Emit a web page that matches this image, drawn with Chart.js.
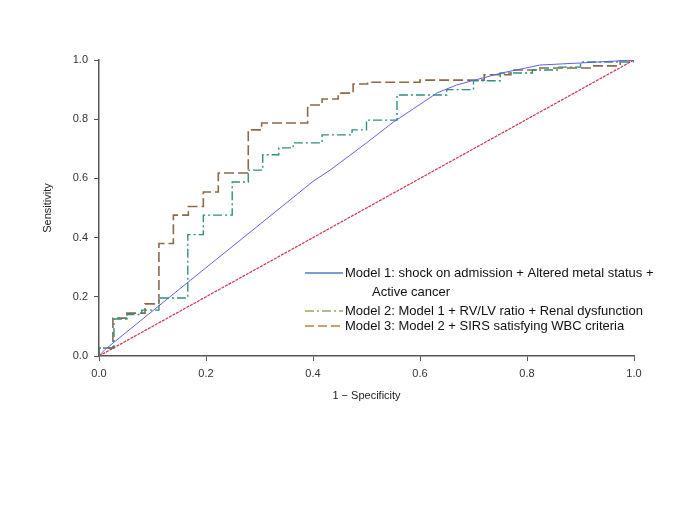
<!DOCTYPE html>
<html>
<head>
<meta charset="utf-8">
<script src="https://cdn.jsdelivr.net/npm/chart.js@4.4.1/dist/chart.umd.min.js"></script>
<style>
  html, body { margin: 0; padding: 0; background: #fff; }
  #wrap { width: 685px; height: 513px; }
</style>
</head>
<body>
<div id="wrap"><canvas id="rocChart" width="685" height="513"></canvas></div>
<script>
// tick labels
const tickValues = [0, 0.2, 0.4, 0.6, 0.8, 1.0];

// Model 1 (smooth curve) : [1 - specificity, sensitivity]
const model1X = [0, 0.01, 0.16, 0.357, 0.40, 0.432, 0.50, 0.55, 0.60, 0.632, 0.669, 0.75, 0.824, 0.90, 1.0];
const model1Y = [0, 0.02, 0.24, 0.527, 0.59, 0.628, 0.72, 0.79, 0.85, 0.889, 0.916, 0.955, 0.983, 0.99, 1.0];

// Model 2 (step curve), point = where the step rises and the new level
const model2X = [0, 0, 0.028, 0.052, 0.08, 0.112, 0.166, 0.195, 0.249, 0.279, 0.306, 0.336, 0.363, 0.417, 0.473, 0.50, 0.557, 0.65, 0.70, 0.75, 0.81, 0.86, 0.90, 1.0];
const model2Y = [0, 0.027, 0.125, 0.14, 0.155, 0.196, 0.41, 0.476, 0.588, 0.628, 0.68, 0.703, 0.72, 0.747, 0.764, 0.797, 0.882, 0.90, 0.93, 0.956, 0.966, 0.976, 0.993, 1.0];

// Model 3 (step curve)
const model3X = [0, 0, 0.026, 0.052, 0.086, 0.112, 0.139, 0.167, 0.195, 0.223, 0.279, 0.304, 0.39, 0.417, 0.447, 0.475, 0.502, 0.60, 0.72, 0.77, 0.82, 0.92, 0.974, 1.0];
const model3Y = [0, 0.027, 0.128, 0.145, 0.176, 0.38, 0.476, 0.505, 0.554, 0.618, 0.764, 0.787, 0.848, 0.868, 0.888, 0.919, 0.925, 0.932, 0.95, 0.966, 0.973, 0.98, 1.0, 1.0];

// chance line
const refX = [0, 1];
const refY = [0, 1];

const legendItems = [
  { lines: ['Model 1: shock on admission + Altered metal status +', 'Active cancer'], color: '#4a7ebb', dash: [], y: 273 },
  { lines: ['Model 2: Model 1 + RV/LV ratio + Renal dysfunction'], color: '#8fae5a', dash: [9, 3, 2, 3], y: 311 },
  { lines: ['Model 3: Model 2 + SIRS satisfying WBC criteria'], color: '#b8862e', dash: [9, 4], y: 326 }
];

const toPoints = (xs, ys) => xs.map((x, i) => ({ x: x, y: ys[i] }));

// legend drawn inside the plot, bottom right
const legendPlugin = {
  id: 'boxLegend',
  afterDraw(chart) {
    const ctx = chart.ctx;
    ctx.save();
    ctx.font = '13px "Liberation Sans", Arial, sans-serif';
    ctx.fillStyle = '#111';
    ctx.textBaseline = 'middle';
    legendItems.forEach(item => {
      ctx.strokeStyle = item.color;
      ctx.lineWidth = 1.3;
      ctx.setLineDash(item.dash);
      ctx.beginPath();
      ctx.moveTo(305, item.y);
      ctx.lineTo(343, item.y);
      ctx.stroke();
      ctx.fillText(item.lines[0], 345, item.y);
      if (item.lines[1]) ctx.fillText(item.lines[1], 372, item.y + 19);
    });
    ctx.restore();
  }
};

const tickFont = { family: '"Liberation Sans", Arial, sans-serif', size: 11 };

new Chart(document.getElementById('rocChart').getContext('2d'), {
  type: 'scatter',
  data: {
    datasets: [
      {
        label: 'Reference',
        data: toPoints(refX, refY),
        showLine: true,
        borderColor: '#d0344a',
        borderWidth: 1.2,
        borderDash: [3, 1],
        pointRadius: 0
      },
      {
        label: 'Model 1',
        data: toPoints(model1X, model1Y),
        showLine: true,
        borderColor: '#6262e0',
        borderWidth: 1,
        pointRadius: 0
      },
      {
        label: 'Model 2',
        data: toPoints(model2X, model2Y),
        showLine: true,
        stepped: 'before',
        borderColor: '#2f8f80',
        borderWidth: 1.4,
        borderDash: [9, 3, 2, 3],
        pointRadius: 0
      },
      {
        label: 'Model 3',
        data: toPoints(model3X, model3Y),
        showLine: true,
        stepped: 'before',
        borderColor: '#8c6a48',
        borderWidth: 1.6,
        borderDash: [10, 4],
        pointRadius: 0
      }
    ]
  },
  options: {
    responsive: false,
    animation: false,
    layout: { padding: { top: 60, right: 51, left: 0, bottom: 0 } },
    plugins: {
      legend: { display: false },
      tooltip: { enabled: false }
    },
    scales: {
      x: {
        type: 'linear',
        min: 0,
        max: 1,
        afterFit: scale => { scale.height = 157; },
        afterBuildTicks: scale => { scale.ticks = tickValues.map(v => ({ value: v })); },
        grid: { drawOnChartArea: false, drawTicks: true, tickLength: 5, color: '#555' },
        border: { display: true, color: '#555', width: 1.5 },
        ticks: { color: '#333', font: tickFont, padding: 6, callback: v => v.toFixed(1) },
        title: { display: true, text: '1 \u2212 Specificity', color: '#222', font: tickFont, padding: { top: 0, bottom: 110 } }
      },
      y: {
        type: 'linear',
        min: 0,
        max: 1,
        afterFit: scale => { scale.width = 99; },
        afterBuildTicks: scale => { scale.ticks = tickValues.map(v => ({ value: v })); },
        grid: { drawOnChartArea: false, drawTicks: true, tickLength: 5, color: '#555' },
        border: { display: true, color: '#555', width: 1.5 },
        ticks: { color: '#333', font: tickFont, padding: 6, callback: v => v.toFixed(1) },
        title: { display: true, text: 'Sensitivity', color: '#222', font: tickFont, padding: { top: 41, bottom: 0 } }
      }
    }
  },
  plugins: [legendPlugin]
});
</script>
</body>
</html>
